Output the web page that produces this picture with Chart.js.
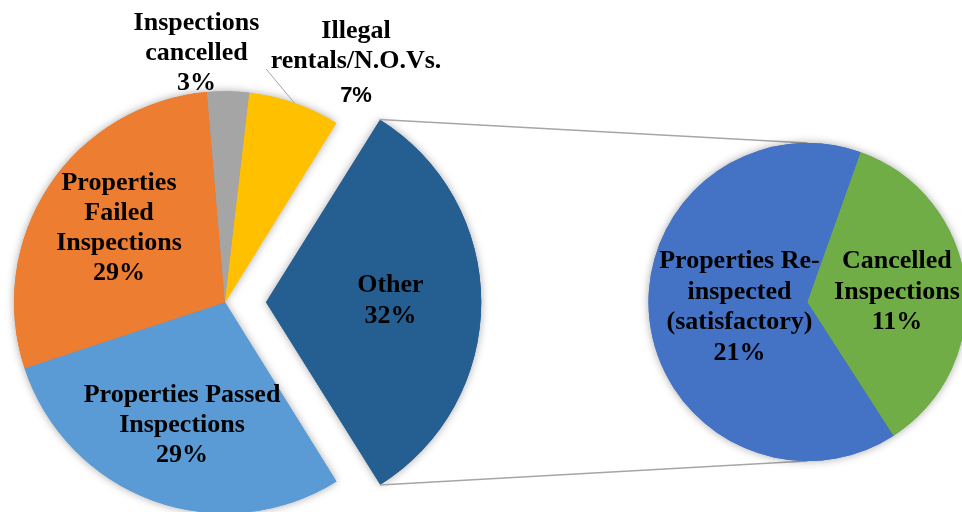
<!DOCTYPE html>
<html>
<head>
<meta charset="utf-8">
<script src="https://cdn.jsdelivr.net/npm/chart.js@4.4.1/dist/chart.umd.min.js"></script>
<style>
html, body { margin: 0; padding: 0; background: #ffffff; width: 962px; height: 512px; overflow: hidden; }
#wrap { position: relative; width: 962px; height: 512px; }
#wrap canvas { position: absolute; left: 0; top: 0; }
</style>
</head>
<body>
<div id="wrap">
  <canvas id="mainPie" width="962" height="512"></canvas>
  <canvas id="subPie" width="962" height="512"></canvas>
</div>
<script>
// ---------------- data ----------------
const mainCategories = ['Properties Passed Inspections', 'Properties Failed Inspections', 'Inspections cancelled', 'Illegal rentals/N.O.Vs.', 'Other'];
const mainValues = [28.8, 28.7, 3.2, 7.0, 32.3];
const subCategories = ['Properties Re-inspected (satisfactory)', 'Cancelled Inspections'];
const subValues = [20.85, 11.45];

// ---------------- styles ----------------
const mainColors = ['#5B9BD5', '#ED7D31', '#A5A5A5', '#FFC000', '#255E91'];
const subColors = ['#4472C4', '#70AD47'];
const mainExplode = [0, 0, 0, 0, 164];
const SERIF = 'bold 26px "Liberation Serif", "Times New Roman", serif';

const mainLabelStyle = [
  { frac: 0.607, dx: 0.7, dy: 0.3, maxW: 215, lh: 30 },
  { frac: 0.618, dx: 2.8, dy: -4.3, maxW: 130, lh: 30 },
  { frac: 1.19, dx: -32.3, dy: -0.2, maxW: 140, lh: 30 },
  { frac: 1.25, dx: 44.2, dy: 6.2, maxW: 190, lh: 30.5, pctDy: 3, pctFont: 'bold 22px "Liberation Sans", Arial, sans-serif', leader: { dx: -90, dy: 9.5 } },
  { frac: 0.578, dx: 0, dy: -3.8, maxW: 130, lh: 31 }
];
const subLabelStyle = [
  { frac: 0.427, dx: -0.6, dy: -5.0, maxW: 175, lh: 30.5 },
  { frac: 0.568, dx: -0.3, dy: -2.1, maxW: 140, lh: 30.5 }
];

const mainTotal = mainValues.reduce((a, b) => a + b, 0);

// ---------------- helpers ----------------
function arcGeom(arc) {
  const p = arc.getProps(['x', 'y', 'startAngle', 'endAngle', 'outerRadius', 'circumference'], true);
  const off = (arc.options.offset || 0) / 4;
  const mid = (p.startAngle + p.endAngle) / 2;
  const fix = 1 - Math.sin(Math.min(Math.PI, p.circumference || 0));
  return {
    cx: p.x + Math.cos(mid) * off,
    cy: p.y + Math.sin(mid) * off,
    r: p.outerRadius + off * fix,
    mid: mid, start: p.startAngle, end: p.endAngle
  };
}

function tokenize(s) {
  const out = [];
  const re = /([^\s-]+-?)(\s*)/g;
  let m;
  while ((m = re.exec(s)) !== null) {
    if (!m[1]) break;
    out.push({ t: m[1], sp: m[2].length > 0 });
  }
  return out;
}

function wrap(ctx, text, maxW) {
  const toks = tokenize(text);
  const lines = [];
  let line = '';
  let prevSp = false;
  toks.forEach(tok => {
    const cand = line === '' ? tok.t : line + (prevSp ? ' ' : '') + tok.t;
    if (line !== '' && ctx.measureText(cand).width > maxW) {
      lines.push(line);
      line = tok.t;
    } else {
      line = cand;
    }
    prevSp = tok.sp;
  });
  if (line) lines.push(line);
  return lines;
}

function drawLabels(chart, names, values, styles, total) {
  const ctx = chart.ctx;
  const meta = chart.getDatasetMeta(0);
  ctx.save();
  ctx.fillStyle = '#000000';
  ctx.textAlign = 'center';
  ctx.textBaseline = 'alphabetic';
  meta.data.forEach((arc, i) => {
    const st = styles[i];
    const g = arcGeom(arc);
    const ax = g.cx + Math.cos(g.mid) * g.r * st.frac + st.dx;
    const ay = g.cy + Math.sin(g.mid) * g.r * st.frac + st.dy;
    ctx.font = SERIF;
    const lines = wrap(ctx, names[i], st.maxW);
    const pct = Math.round(values[i] / total * 100) + '%';
    const all = lines.concat([pct]);
    const n = all.length;
    all.forEach((t, k) => {
      const isPct = k === n - 1;
      ctx.font = (isPct && st.pctFont) ? st.pctFont : SERIF;
      const y = ay + (k - (n - 1) / 2) * st.lh + (isPct ? (st.pctDy || 0) : 0) + 9;
      ctx.fillText(t, ax, y);
    });
    if (st.leader) {
      ctx.strokeStyle = '#A6A6A6';
      ctx.lineWidth = 1;
      ctx.beginPath();
      ctx.moveTo(ax + st.leader.dx, ay + st.leader.dy);
      ctx.lineTo(g.cx + Math.cos(g.mid) * g.r, g.cy + Math.sin(g.mid) * g.r);
      ctx.stroke();
    }
  });
  ctx.restore();
}

const shadowPlugin = {
  id: 'softShadow',
  beforeDatasetsDraw(chart) {
    const ctx = chart.ctx;
    const meta = chart.getDatasetMeta(0);
    ctx.save();
    ctx.shadowColor = 'rgba(0,0,0,0.35)';
    ctx.shadowBlur = 9;
    ctx.shadowOffsetX = 0;
    ctx.shadowOffsetY = 0;
    meta.data.forEach(a => a.draw(ctx));
    ctx.restore();
  }
};

// ---------------- main pie ----------------
const mainChart = new Chart(document.getElementById('mainPie'), {
  type: 'pie',
  data: {
    labels: mainCategories,
    datasets: [{
      data: mainValues,
      backgroundColor: mainColors,
      borderWidth: 0,
      offset: mainExplode,
      clip: false
    }]
  },
  options: {
    responsive: false,
    animation: false,
    devicePixelRatio: 1,
    events: [],
    rotation: 148.1,
    radius: 211,
    layout: { padding: { left: 0, right: 512, top: 92.6, bottom: 0 } },
    plugins: { legend: { display: false }, tooltip: { enabled: false } }
  },
  plugins: [shadowPlugin, {
    id: 'mainLabels',
    afterDatasetsDraw(chart) { drawLabels(chart, mainCategories, mainValues, mainLabelStyle, mainTotal); }
  }]
});

// ---------------- secondary pie ----------------
const connectorPlugin = {
  id: 'connectors',
  beforeDatasetsDraw(chart) {
    const ctx = chart.ctx;
    const otherIdx = mainCategories.indexOf('Other');
    const g = arcGeom(mainChart.getDatasetMeta(0).data[otherIdx]);
    const s = chart.getDatasetMeta(0).data[0].getProps(['x', 'y', 'outerRadius'], true);
    ctx.save();
    ctx.strokeStyle = '#A6A6A6';
    ctx.lineWidth = 1.5;
    ctx.beginPath();
    ctx.moveTo(g.cx + Math.cos(g.start) * g.r, g.cy + Math.sin(g.start) * g.r);
    ctx.lineTo(s.x, s.y - s.outerRadius);
    ctx.moveTo(g.cx + Math.cos(g.end) * g.r, g.cy + Math.sin(g.end) * g.r);
    ctx.lineTo(s.x, s.y + s.outerRadius);
    ctx.stroke();
    ctx.restore();
  }
};

new Chart(document.getElementById('subPie'), {
  type: 'pie',
  data: {
    labels: subCategories,
    datasets: [{
      data: subValues,
      backgroundColor: subColors,
      borderWidth: 0,
      clip: false
    }]
  },
  options: {
    responsive: false,
    animation: false,
    devicePixelRatio: 1,
    events: [],
    rotation: 147.2,
    radius: 159,
    layout: { padding: { left: 653, right: 0, top: 92, bottom: 0 } },
    plugins: { legend: { display: false }, tooltip: { enabled: false } }
  },
  plugins: [connectorPlugin, shadowPlugin, {
    id: 'subLabels',
    afterDatasetsDraw(chart) { drawLabels(chart, subCategories, subValues, subLabelStyle, mainTotal); }
  }]
});
</script>
</body>
</html>
